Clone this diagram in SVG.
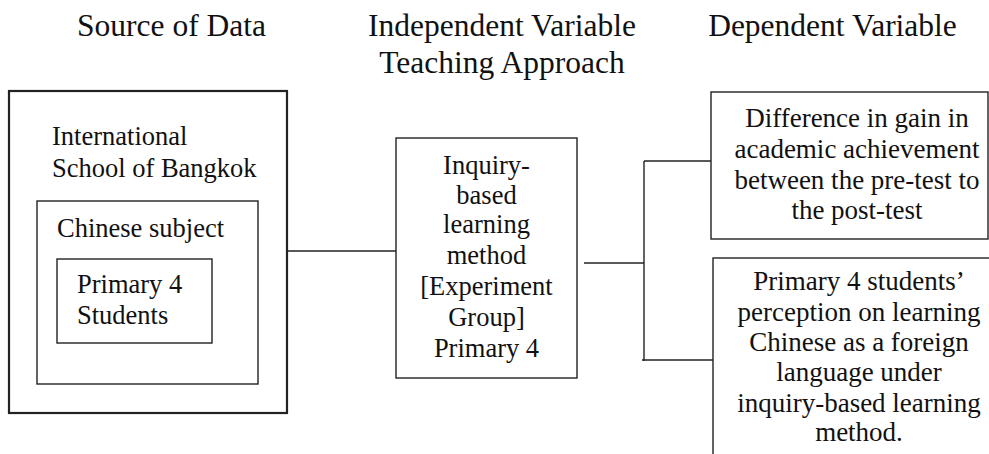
<svg xmlns="http://www.w3.org/2000/svg" width="989" height="454" viewBox="0 0 989 454">
<style>
text{font-family:"Liberation Serif","Times New Roman",serif;fill:#111}
.t{font-size:31.5px}
.b{font-size:26.5px}
.r{font-size:27px;text-anchor:middle}
.m{text-anchor:middle}
rect{fill:none;stroke:#222;stroke-width:1.4}
.thick{stroke-width:2.2}
line{stroke:#222;stroke-width:1.4}
</style>
<rect x="0" y="0" width="989" height="454" fill="#fff" stroke="none" style="fill:#fff;stroke:none"/>
<g id="titles">
<text class="t m" x="171.5" y="36">Source of Data</text>
<text class="t m" x="502" y="36">Independent Variable</text>
<text class="t m" x="502" y="73">Teaching Approach</text>
<text class="t m" x="832.5" y="36">Dependent Variable</text>
</g>
<g id="source">
<rect class="thick" x="9" y="91" width="278" height="322"/>
<text class="b" x="52" y="145">International</text>
<text class="b" x="52" y="177">School of Bangkok</text>
</g>
<g id="subject">
<rect x="37" y="201" width="221" height="183"/>
<text class="b" x="57" y="237">Chinese subject</text>
</g>
<g id="students">
<rect x="57" y="259" width="155" height="84"/>
<text class="b" x="77" y="293">Primary 4</text>
<text class="b" x="77" y="324">Students</text>
</g>
<g id="method">
<rect x="396" y="138" width="181" height="240"/>
<text class="b m" x="486.5" y="174">Inquiry-</text>
<text class="b m" x="486.5" y="204">based</text>
<text class="b m" x="486.5" y="233">learning</text>
<text class="b m" x="486.5" y="264">method</text>
<text class="b m" x="486.5" y="295">[Experiment</text>
<text class="b m" x="486.5" y="326">Group]</text>
<text class="b m" x="486.5" y="357">Primary 4</text>
</g>
<g id="achievement">
<rect x="711" y="92" width="277" height="147"/>
<text class="r" x="857" y="127">Difference in gain in</text>
<text class="r" x="857" y="158">academic achievement</text>
<text class="r" x="857" y="189">between the pre-test to</text>
<text class="r" x="857" y="219">the post-test</text>
</g>
<g id="perception">
<rect x="713" y="258" width="300" height="230"/>
<text class="r" x="859" y="290">Primary 4 students’</text>
<text class="r" x="859" y="321">perception on learning</text>
<text class="r" x="859" y="351">Chinese as a foreign</text>
<text class="r" x="859" y="381">language under</text>
<text class="r" x="859" y="412">inquiry-based learning</text>
<text class="r" x="859" y="441">method.</text>
</g>
<g id="connectors">
<line x1="287" y1="251" x2="396" y2="251"/>
<line x1="584" y1="263" x2="644" y2="263"/>
<line x1="644" y1="161" x2="644" y2="361"/>
<line x1="644" y1="161" x2="711" y2="161"/>
<line x1="642" y1="360" x2="713" y2="360"/>
</g>
</svg>
